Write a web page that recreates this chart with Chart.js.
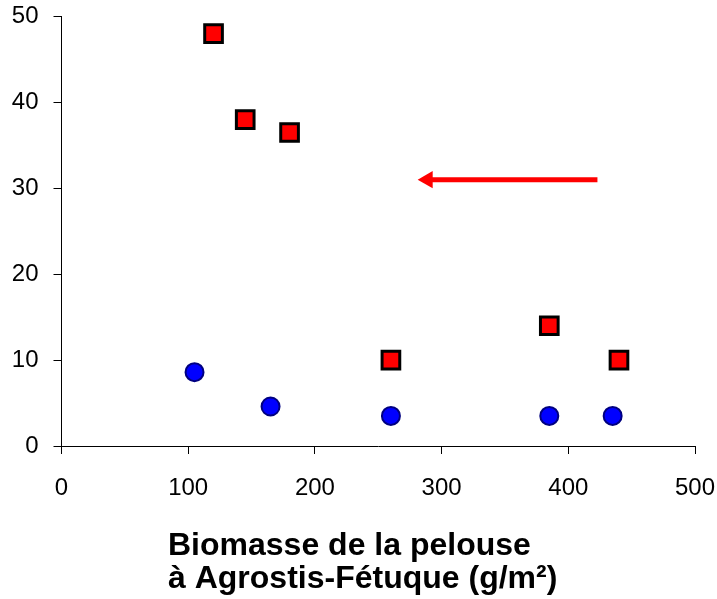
<!DOCTYPE html>
<html>
<head>
<meta charset="utf-8">
<script src="https://cdn.jsdelivr.net/npm/chart.js@4"></script>
<style>
  html, body { margin: 0; padding: 0; background: #fff; }
  #wrap { width: 717px; height: 599px; }
</style>
</head>
<body>
<div id="wrap"><canvas id="c" width="717" height="599"></canvas></div>
<script>
// Data
const redX = [120, 145, 180, 260, 385, 440];
const redY = [48, 38, 36.5, 10, 14, 10];
const blueX = [105, 165, 260, 385, 435];
const blueY = [8.6, 4.6, 3.5, 3.5, 3.5];
// Arrow annotation (data units): tail -> head
const arrowX = [423, 289];
const arrowY = [31, 31];
const xTicks = [0, 100, 200, 300, 400, 500];
const yTicks = [0, 10, 20, 30, 40, 50];
const titleLines = ["Biomasse de la pelouse", "à Agrostis-Fétuque (g/m²)"];

const toPts = (xs, ys) => xs.map((x, i) => ({ x: x, y: ys[i] }));

const titlePlugin = {
  id: 'leftTitle',
  afterDraw(chart) {
    const ctx = chart.ctx;
    ctx.save();
    ctx.fillStyle = '#000';
    ctx.font = 'bold 32px "Liberation Sans", Arial, sans-serif';
    ctx.textAlign = 'left';
    ctx.textBaseline = 'alphabetic';
    ctx.fillText(titleLines[0], 168, 555);
    ctx.fillText(titleLines[1], 168, 588);
    ctx.restore();
  }
};

new Chart(document.getElementById('c'), {
  type: 'scatter',
  data: {
    datasets: [
      {
        label: 'arrow',
        data: toPts(arrowX, arrowY),
        showLine: true,
        borderColor: '#ff0000',
        borderWidth: 5,
        borderCapStyle: 'butt',
        pointStyle: 'triangle',
        pointRadius: [0, 10],
        pointRotation: [0, -90],
        pointBackgroundColor: '#ff0000',
        pointBorderColor: '#ff0000',
        pointBorderWidth: 0,
        order: 3
      },
      {
        label: 'squares',
        data: toPts(redX, redY),
        pointStyle: 'rect',
        pointRadius: 12.5,
        pointBackgroundColor: '#ff0000',
        pointBorderColor: '#000000',
        pointBorderWidth: 3,
        order: 1
      },
      {
        label: 'circles',
        data: toPts(blueX, blueY),
        pointStyle: 'circle',
        pointRadius: 9,
        pointBackgroundColor: '#0000ff',
        pointBorderColor: '#000080',
        pointBorderWidth: 2,
        order: 2
      }
    ]
  },
  options: {
    responsive: false,
    animation: false,
    layout: { padding: { left: 12, right: 22, top: 16.5, bottom: 93 } },
    plugins: { legend: { display: false }, tooltip: { enabled: false } },
    scales: {
      x: {
        type: 'linear',
        min: 0, max: 500,
        afterBuildTicks: (s) => { s.ticks = xTicks.map(v => ({ value: v })); },
        afterFit: (s) => { s.paddingLeft = 0; s.paddingRight = 0; s.height = 60; },
        grid: { drawOnChartArea: false, drawTicks: true, tickLength: 8, color: '#000' },
        border: { display: true, color: '#000', width: 1 },
        ticks: { color: '#000', padding: 20, font: { family: '"Liberation Sans", Arial, sans-serif', size: 24 } }
      },
      y: {
        type: 'linear',
        min: 0, max: 50,
        afterBuildTicks: (s) => { s.ticks = yTicks.map(v => ({ value: v })); },
        afterFit: (s) => { s.paddingTop = 0; s.paddingBottom = 0; s.width = 49.5; },
        grid: { drawOnChartArea: false, drawTicks: true, tickLength: 8, color: '#000' },
        border: { display: true, color: '#000', width: 1 },
        ticks: { color: '#000', padding: 15, font: { family: '"Liberation Sans", Arial, sans-serif', size: 24 } }
      }
    }
  },
  plugins: [titlePlugin]
});
</script>
</body>
</html>
